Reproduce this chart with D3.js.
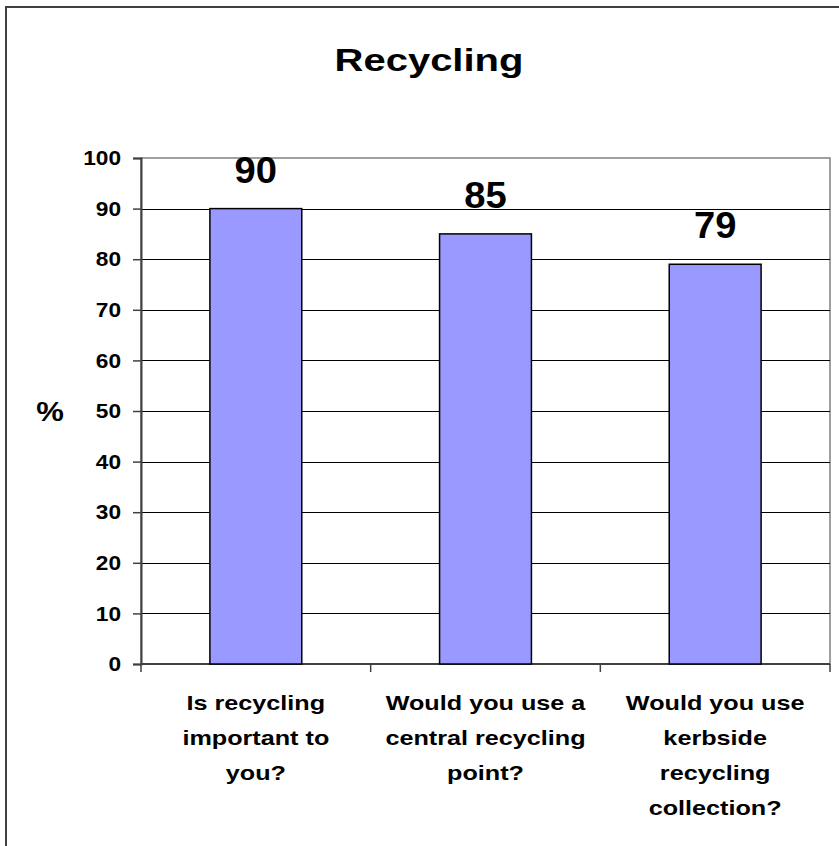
<!DOCTYPE html>
<html>
<head>
<meta charset="utf-8">
<script src="https://cdn.jsdelivr.net/npm/d3@7"></script>
<style>
  body { margin: 0; background: #fff; }
  text { font-family: Arial, "Liberation Sans", sans-serif; font-weight: bold; fill: #000; }
</style>
</head>
<body>
<div id="viz"></div>
<script>
// data
var categories = [
  ["Is recycling", "important to", "you?"],
  ["Would you use a", "central recycling", "point?"],
  ["Would you use", "kerbside", "recycling", "collection?"]
];
var values = [90, 85, 79];
var yTicks = [0, 10, 20, 30, 40, 50, 60, 70, 80, 90, 100];
var title = "Recycling";
var yLabel = "%";

var W = 839, H = 846;
var margin = {top: 158, right: 9, bottom: 182, left: 141},
    width = W - margin.left - margin.right,
    height = H - margin.top - margin.bottom;

// the original text is a bit wider than plain Arial, so stretch it sideways
function stretch(sel, cx, sx) {
  sel.attr("transform", "translate(" + cx + ",0) scale(" + sx + ",1) translate(" + (-cx) + ",0)");
}

var svg = d3.select("#viz").append("svg")
    .attr("width", W)
    .attr("height", H);

// outer chart border
svg.append("rect")
    .attr("x", 6).attr("y", 7)
    .attr("width", W + 20).attr("height", H + 20)
    .attr("fill", "#fff")
    .attr("stroke", "#404040")
    .attr("stroke-width", 2);

svg.append("text")
    .attr("x", 429).attr("y", 71)
    .attr("text-anchor", "middle")
    .style("font-size", "32px")
    .text(title)
    .call(stretch, 429, 1.25);

var g = svg.append("g")
    .attr("transform", "translate(" + margin.left + "," + margin.top + ")");

var x = d3.scaleBand().domain(d3.range(values.length)).range([0, width]).paddingInner(0).paddingOuter(0);
var y = d3.scaleLinear().domain([0, 100]).range([height, 0]);

// plot area border
g.append("rect")
    .attr("width", width).attr("height", height)
    .attr("fill", "none")
    .attr("stroke", "#808080")
    .attr("stroke-width", 1.5);

// gridlines
g.selectAll(".grid")
    .data(yTicks.filter(function(d) { return d > 0 && d < 100; }))
  .enter().append("line")
    .attr("x1", 0).attr("x2", width)
    .attr("y1", function(d) { return Math.round(y(d)) + 0.5; })
    .attr("y2", function(d) { return Math.round(y(d)) + 0.5; })
    .attr("stroke", "#000")
    .attr("stroke-width", 1);

// y axis
var yAxis = g.append("g")
    .call(d3.axisLeft(y).tickValues(yTicks).tickSize(8).tickPadding(12));
yAxis.selectAll("text").style("font-size", "21px").call(stretch, -20, 1.08);
yAxis.selectAll("line").attr("stroke", "#404040").attr("stroke-width", 1.5);
yAxis.select(".domain").attr("stroke", "#404040").attr("stroke-width", 2);

// x axis
var xg = g.append("g").attr("transform", "translate(0," + height + ")");
xg.append("line")
    .attr("x1", 0).attr("x2", width)
    .attr("stroke", "#404040").attr("stroke-width", 2);
xg.selectAll(".tick")
    .data(d3.range(values.length + 1))
  .enter().append("line")
    .attr("x1", function(d) { return d < values.length ? x(d) : width; })
    .attr("x2", function(d) { return d < values.length ? x(d) : width; })
    .attr("y1", 0).attr("y2", 8)
    .attr("stroke", "#404040").attr("stroke-width", 1.5);

var bw = x.bandwidth() * 0.4;

g.selectAll(".bar")
    .data(values)
  .enter().append("rect")
    .attr("class", "bar")
    .attr("x", function(d, i) { return x(i) + x.bandwidth() / 2 - bw / 2; })
    .attr("y", function(d) { return y(d); })
    .attr("width", bw)
    .attr("height", function(d) { return height - y(d); })
    .attr("fill", "#9999FF")
    .attr("stroke", "#000")
    .attr("stroke-width", 1.5);

g.selectAll(".val")
    .data(values)
  .enter().append("text")
    .attr("x", function(d, i) { return x(i) + x.bandwidth() / 2; })
    .attr("y", function(d) { return y(d) - 26; })
    .attr("text-anchor", "middle")
    .style("font-size", "36px")
    .text(function(d) { return d; })
    .each(function(d, i) { d3.select(this).call(stretch, x(i) + x.bandwidth() / 2, 1.06); });

// category labels
g.selectAll(".cat")
    .data(categories)
  .enter().append("text")
    .attr("text-anchor", "middle")
    .style("font-size", "20px")
    .each(function(lines, i) {
      var t = d3.select(this);
      var cx = x(i) + x.bandwidth() / 2;
      lines.forEach(function(l, k) {
        t.append("tspan")
          .attr("x", cx)
          .attr("y", height + 46 + k * 35)
          .text(l);
      });
      t.call(stretch, cx, 1.26);
    });

svg.append("text")
    .attr("x", 50).attr("y", 421)
    .attr("text-anchor", "middle")
    .style("font-size", "27px")
    .text(yLabel)
    .call(stretch, 50, 1.15);
</script>
</body>
</html>
